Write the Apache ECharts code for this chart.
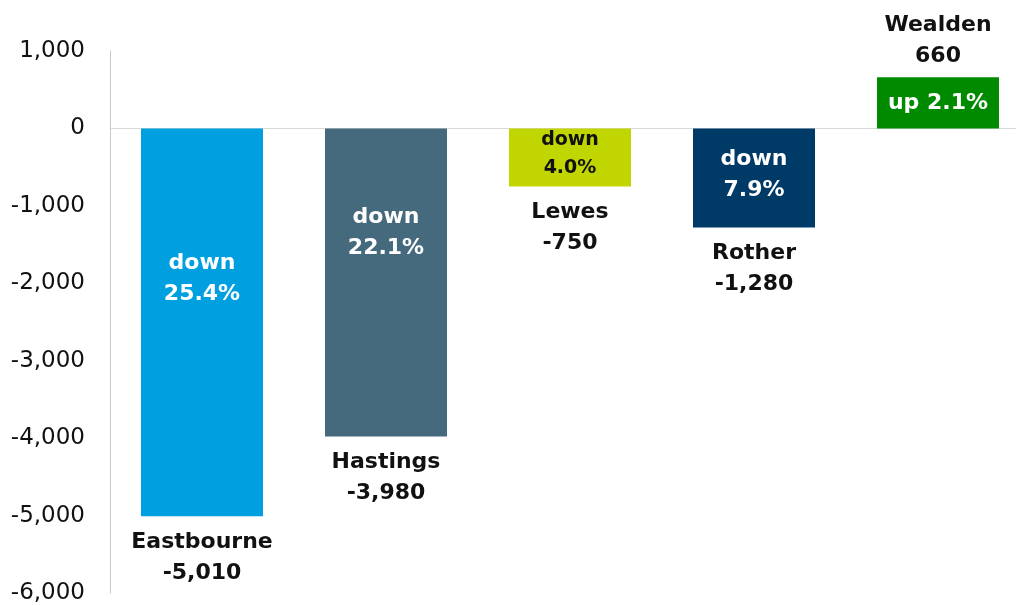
<!DOCTYPE html>
<html>
<head>
<meta charset="utf-8">
<script src="https://cdn.jsdelivr.net/npm/echarts@6/dist/echarts.min.js"></script>
<style>html,body{margin:0;padding:0;background:#fff;overflow:hidden;width:1016px;height:605px}#c{width:1030px;height:605px}</style>
</head>
<body>
<div id="c"></div>
<script>
const categories = ['Eastbourne', 'Hastings', 'Lewes', 'Rother', 'Wealden'];
const values = [-5010, -3980, -750, -1280, 660];
const changeLabels = ['down\n25.4%', 'down\n22.1%', 'down\n4.0%', 'down\n7.9%', 'up 2.1%'];
const barColors = ['#009fdf', '#456a7d', '#c1d600', '#003a66', '#008a00'];
const innerTextColors = ['#ffffff', '#ffffff', '#111111', '#ffffff', '#ffffff'];
const innerOffsets = [-44, -50, -3, -3, 0];
const yTicks = [-6000, -5000, -4000, -3000, -2000, -1000, 0, 1000];

const FONT = 'DejaVu Sans';
const fmt = v => (v < 0 ? '-' : '') + Math.abs(v).toString().replace(/\B(?=(\d{3})+(?!\d))/g, ',');

const chart = echarts.init(document.getElementById('c'), null, {renderer: 'canvas'});
chart.setOption({
  animation: false,
  grid: {left: 110, top: 51, right: 0, bottom: 12, containLabel: false},
  xAxis: {
    type: 'category', data: categories,
    axisLine: {show: true, onZero: true, lineStyle: {color: '#d9d9d9', width: 1}},
    axisTick: {show: false}, axisLabel: {show: false}, splitLine: {show: false}
  },
  yAxis: {
    type: 'value', min: yTicks[0], max: yTicks[yTicks.length - 1], interval: 1000,
    axisLine: {show: true, lineStyle: {color: '#c8c8c8', width: 1}},
    axisTick: {show: false}, splitLine: {show: false},
    axisLabel: {margin: 25, color: '#111', fontSize: 23, fontFamily: FONT, formatter: v => fmt(v)}
  },
  series: [
    {
      type: 'bar', barWidth: 122, barGap: '-100%',
      data: values.map((v, i) => ({
        value: v,
        itemStyle: {color: barColors[i]},
        label: {
          show: true, position: 'inside', offset: [0, innerOffsets[i]],
          formatter: changeLabels[i], color: innerTextColors[i],
          fontSize: i === 2 ? 19 : 22, fontWeight: 'bold', fontFamily: FONT,
          lineHeight: i === 2 ? 28 : 31
        }
      }))
    },
    {
      type: 'bar', barWidth: 122, barGap: '-100%', silent: true,
      data: values.map((v, i) => ({
        value: v,
        itemStyle: {color: 'rgba(0,0,0,0)'},
        label: {
          show: true, position: v < 0 ? 'bottom' : 'top', distance: v < 0 ? 10 : 6,
          formatter: categories[i] + '\n' + fmt(v), color: '#111',
          fontSize: 22, fontWeight: 'bold', fontFamily: FONT, lineHeight: 31
        }
      }))
    }
  ]
});
</script>
</body>
</html>
